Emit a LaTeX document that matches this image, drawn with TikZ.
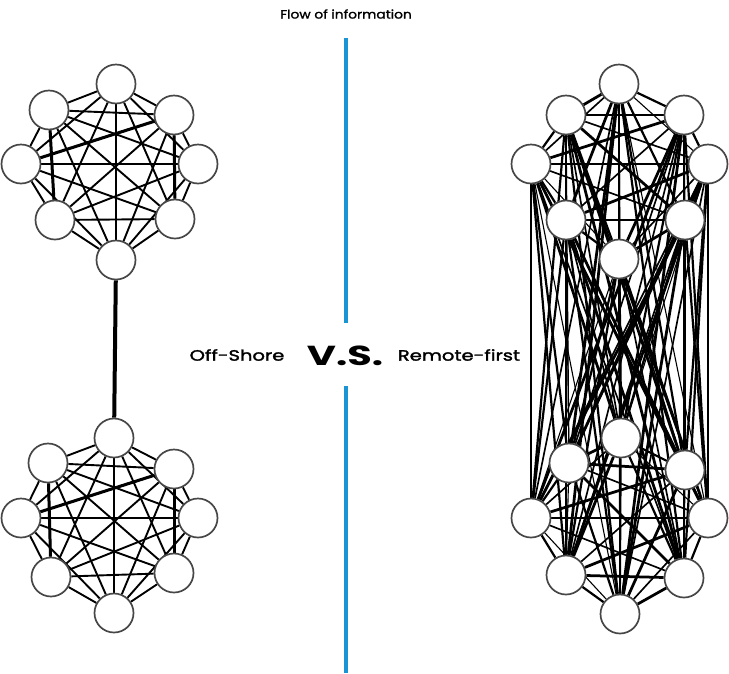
\documentclass[tikz,border=0pt]{standalone}
\usepackage{fontspec}
\setmainfont{Poppins}
\newfontfamily\widefont{Poppins}[FakeStretch=1.3, FakeBold=2]
\newfontfamily\titlefont{Poppins}[FakeStretch=1.15, FakeBold=1.5]
\newfontfamily\wideboldfont{Poppins}[FakeStretch=1.45]
\usetikzlibrary{backgrounds}
\definecolor{flowblue}{HTML}{1A94D2}
\tikzset{
  person/.style={circle, minimum size=39pt, inner sep=0pt, draw=black!72, line width=1.7pt, fill=white},
  link/.style={line width=1.9pt, black},
  thicklink/.style={line width=3pt, black},
  divider/.style={flowblue, line width=3.5pt},
  lbl/.style={inner sep=0pt, font=\widefont\fontsize{15}{18}\selectfont},
}
\begin{document}
\begin{tikzpicture}[x=1pt,y=-1pt]
\useasboundingbox (0,0) rectangle (729,673);
% ---- left top cluster
\node[person] (a1) at (116,84) {};
\node[person] (a2) at (174,115) {};
\node[person] (a3) at (198,164) {};
\node[person] (a4) at (175,219) {};
\node[person] (a5) at (116,260) {};
\node[person] (a6) at (55,220) {};
\node[person] (a7) at (21,164) {};
\node[person] (a8) at (49,110) {};
% ---- left bottom cluster
\node[person] (b1) at (114,438) {};
\node[person] (b2) at (174,469) {};
\node[person] (b3) at (198,518) {};
\node[person] (b4) at (174,573) {};
\node[person] (b5) at (114,613) {};
\node[person] (b6) at (51,577) {};
\node[person] (b7) at (21,518) {};
\node[person] (b8) at (48,463) {};
% ---- right cluster
\node[person] (r1) at (619,84) {};
\node[person] (r2) at (566,115) {};
\node[person] (r3) at (684,115) {};
\node[person] (r4) at (531,164) {};
\node[person] (r5) at (708,164) {};
\node[person] (r6) at (566,220) {};
\node[person] (r7) at (685,220) {};
\node[person] (r8) at (619,259) {};
\node[person] (r9) at (621,438) {};
\node[person] (r10) at (569,463) {};
\node[person] (r11) at (685,470) {};
\node[person] (r12) at (531,518) {};
\node[person] (r13) at (708,518) {};
\node[person] (r14) at (566,575) {};
\node[person] (r15) at (684,578) {};
\node[person] (r16) at (620,614) {};
% ---- texts
\node[lbl, font=\titlefont\fontsize{12}{14}\selectfont] (title) at (346,14) {Flow of information};
\node[lbl] (off) at (237,355) {Off-Shore};
\node[lbl] (rem) at (459,355) {Remote-first};
\node[lbl, font=\wideboldfont\bfseries\fontsize{27.5}{30}\selectfont] (vs) at (345,356) {V.S.};
\coordinate (d1) at (346,38);
\coordinate (d2) at (346,323);
\coordinate (d3) at (346,386);
\coordinate (d4) at (346,673);
\draw[divider] (d1) -- (d2);
\draw[divider] (d3) -- (d4);
\begin{scope}[on background layer]
  \foreach \p in {a,b}{
    \foreach \i [evaluate=\i as \ni using int(\i+1)] in {1,...,7}{
      \foreach \j in {\ni,...,8}{
        \draw[link] (\p\i) -- (\p\j);
      }
    }
    \draw[thicklink] (\p7) -- (\p2);
    \draw[thicklink] (\p8) -- (\p6);
    \draw[thicklink] (\p2) -- (\p4);
  }
  \draw[line width=4pt] (a5) -- (b1);
  \foreach \i [evaluate=\i as \ni using int(\i+1)] in {1,...,15}{
    \foreach \j in {\ni,...,16}{
      \pgfmathsetmacro\w{1.1+0.55*mod(\i*5+\j*3,4)}
      \draw[line width=\w pt] (r\i) -- (r\j);
    }
  }
\end{scope}
\end{tikzpicture}
\end{document}
